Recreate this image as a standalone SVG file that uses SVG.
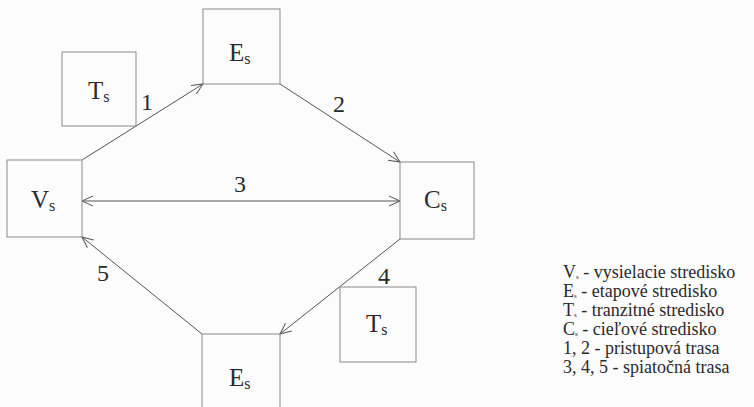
<svg xmlns="http://www.w3.org/2000/svg" width="754" height="407" viewBox="0 0 754 407">
<style>
text{font-family:"Liberation Serif","DejaVu Serif","Noto Serif",serif;fill:#2a2a2a}
.box{fill:none;stroke:#8a8a8a;stroke-width:1}
.lbl{font-size:25px}
.sub{font-size:16px}
.num{font-size:24px;text-anchor:middle}
.conn{stroke:#555;stroke-width:1;fill:none;marker-end:url(#ah)}
.leg{font-size:18px}
.ls{font-size:7px}
</style>
<defs>
<marker id="ah" markerUnits="userSpaceOnUse" markerWidth="14" markerHeight="14" viewBox="-12 -7 14 14" refX="0" refY="0" orient="auto-start-reverse">
<path d="M -11 -5 L 0 0 L -11 5" fill="none" stroke="#555" stroke-width="1"/>
</marker>
</defs>
<rect width="754" height="407" fill="#fcfcfc"/>
<g id="connectors">
<line class="conn" x1="82" y1="160" x2="203" y2="84"/>
<line class="conn" x1="280" y1="84" x2="400" y2="162"/>
<line class="conn" x1="82" y1="201" x2="400" y2="201" marker-start="url(#ah)"/>
<line class="conn" x1="400" y1="239" x2="280" y2="334"/>
<line class="conn" x1="202" y1="334" x2="82" y2="237"/>
<text class="num" x="147" y="110">1</text>
<text class="num" x="339" y="112">2</text>
<text class="num" x="240" y="192">3</text>
<text class="num" x="384" y="284">4</text>
<text class="num" x="103" y="281">5</text>
</g>
<g id="Ts1">
<rect class="box" x="62" y="52" width="74" height="74"/>
<text class="lbl" x="88" y="99">T<tspan class="sub" dy="3">s</tspan></text>
</g>
<g id="Es1">
<rect class="box" x="203" y="9" width="77" height="75"/>
<text class="lbl" x="229" y="61">E<tspan class="sub" dy="3">s</tspan></text>
</g>
<g id="Vs">
<rect class="box" x="7" y="160" width="75" height="77"/>
<text class="lbl" x="31" y="208">V<tspan class="sub" dy="3">s</tspan></text>
</g>
<g id="Cs">
<rect class="box" x="400" y="162" width="74" height="77"/>
<text class="lbl" x="424" y="208">C<tspan class="sub" dy="3">s</tspan></text>
</g>
<g id="Ts2">
<rect class="box" x="340" y="287" width="76" height="75"/>
<text class="lbl" x="366" y="332">T<tspan class="sub" dy="3">s</tspan></text>
</g>
<g id="Es2">
<rect class="box" x="202" y="334" width="78" height="80"/>
<text class="lbl" x="229" y="386">E<tspan class="sub" dy="3">s</tspan></text>
</g>
<g id="legend">
<text class="leg" x="563" y="278">V<tspan class="ls" dy="1">s</tspan><tspan dy="-1"> - vysielacie stredisko</tspan></text>
<text class="leg" x="563" y="297">E<tspan class="ls" dy="1">s</tspan><tspan dy="-1"> - etapové stredisko</tspan></text>
<text class="leg" x="563" y="316">T<tspan class="ls" dy="1">s</tspan><tspan dy="-1"> - tranzitné stredisko</tspan></text>
<text class="leg" x="563" y="335">C<tspan class="ls" dy="1">s</tspan><tspan dy="-1"> - cieľové stredisko</tspan></text>
<text class="leg" x="563" y="354">1, 2 - pristupová trasa</text>
<text class="leg" x="563" y="373">3, 4, 5 - spiatočná trasa</text>
</g>
</svg>
